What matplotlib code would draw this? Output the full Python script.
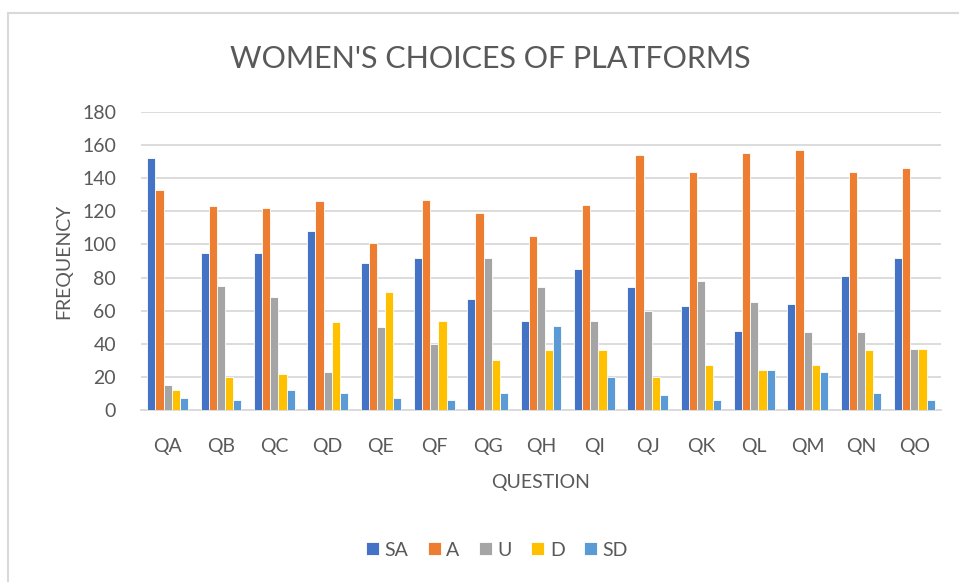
import numpy as np
import matplotlib.pyplot as plt
from matplotlib.patches import Rectangle

# --- data ---
questions = ['QA', 'QB', 'QC', 'QD', 'QE', 'QF', 'QG', 'QH', 'QI', 'QJ',
             'QK', 'QL', 'QM', 'QN', 'QO']
sa = [152, 95, 95, 108, 89, 92, 67, 54, 85, 74, 63, 48, 64, 81, 92]
a = [133, 123, 122, 126, 101, 127, 119, 105, 124, 154, 144, 155, 157, 144, 146]
u = [15, 75, 68, 23, 50, 40, 92, 74, 54, 60, 78, 65, 47, 47, 37]
d = [12, 20, 22, 53, 71, 54, 30, 36, 36, 20, 27, 24, 27, 36, 37]
sd = [7, 6, 12, 10, 7, 6, 10, 51, 20, 9, 6, 24, 23, 10, 6]
series_names = ['SA', 'A', 'U', 'D', 'SD']
colors = ['#4472C4', '#ED7D31', '#A5A5A5', '#FFC000', '#5B9BD5']

plt.rcParams['font.family'] = ['Lato', 'DejaVu Sans']
txt = '#595959'
grid_c = '#D9D9D9'

W, H = 959, 582
fig = plt.figure(figsize=(W / 100, H / 100), dpi=100)
fig.patch.set_facecolor('white')

# chart border (Excel chart area)
fig.patches.append(Rectangle((8 / W, -0.1), 1.2, 1 - 13 / H + 0.1,
                             transform=fig.transFigure, fill=False,
                             edgecolor=grid_c, linewidth=1.5))

left, right = 141 / W, 941 / W
bottom, top = 1 - 410 / H, 1 - 112 / H
ax = fig.add_axes([left, bottom, right - left, top - bottom])

x = np.arange(len(questions))
bw = 0.153
for i, (vals, name, c) in enumerate(zip([sa, a, u, d, sd], series_names, colors)):
    ax.bar(x + (i - 2) * bw, vals, width=bw, color=c, edgecolor='white',
           linewidth=0.6, label=name, zorder=3)

ax.set_xlim(-0.5, len(questions) - 0.5)
ax.set_ylim(0, 180)
ax.set_yticks(range(0, 181, 20))
ax.set_xticks(x)
ax.set_xticklabels(questions)
ax.yaxis.grid(True, color=grid_c, linewidth=1.3, zorder=0)
ax.set_axisbelow(True)
for s in ['top', 'right', 'left']:
    ax.spines[s].set_visible(False)
ax.spines['bottom'].set_color(grid_c)
ax.spines['bottom'].set_linewidth(1.3)
ax.tick_params(length=0, colors=txt, labelsize=14)
ax.tick_params(axis='x', pad=20)
ax.tick_params(axis='y', pad=18)

ax.set_xlabel('QUESTION', color=txt, fontsize=14, labelpad=14)
ax.set_ylabel('FREQUENCY', color=txt, fontsize=14, labelpad=7)

fig.text(490 / W, 1 - 59 / H, "WOMEN'S CHOICES OF PLATFORMS", color=txt,
         fontsize=22, ha='center', va='center')

fig.legend(loc='center', bbox_to_anchor=(497 / W, 1 - 550 / H), ncol=5,
           frameon=False, fontsize=14, labelcolor=txt, handlelength=0.65,
           handleheight=0.65, handletextpad=0.3, columnspacing=1.0)

fig.savefig('out.png', dpi=100, facecolor='white')
